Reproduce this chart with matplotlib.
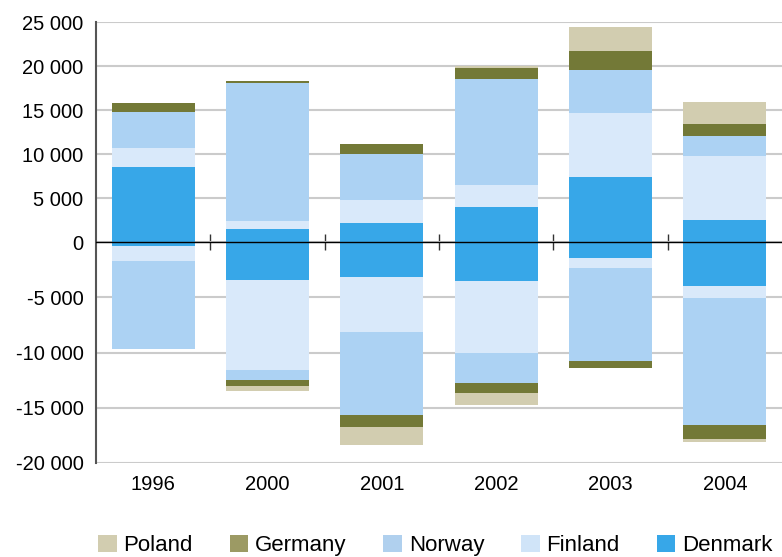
import numpy as np
import matplotlib
matplotlib.use("Agg")
import matplotlib.pyplot as plt
from matplotlib.ticker import FuncFormatter, FixedLocator
from matplotlib.patches import Patch

plt.rcParams['font.family'] = ['Liberation Sans', 'DejaVu Sans']

categories = ["1996", "2000", "2001", "2002", "2003", "2004"]
series = ["Denmark", "Finland", "Norway", "Germany", "Poland"]

denmark_pos = [8500, 1480, 2160, 3970, 7380, 2500]
finland_pos = [2170, 900, 2610, 2500, 7260, 7260]
norway_pos = [4090, 15670, 5220, 12030, 4880, 2270]
germany_pos = [1020, 220, 1130, 1250, 2160, 1360]
poland_pos = [0, 0, 0, 310, 2720, 2500]

denmark_neg = [-360, -3450, -3170, -3540, -1450, -3990]
finland_neg = [-1360, -8150, -4990, -6520, -910, -1090]
norway_neg = [-7950, -910, -7520, -2720, -8430, -11510]
germany_neg = [0, -540, -1090, -910, -600, -1270]
poland_neg = [0, -450, -1630, -1090, 0, -270]

colors = {"Denmark": "#37A7E8", "Finland": "#D9E9FA", "Norway": "#ACD2F3",
          "Germany": "#737937", "Poland": "#D2CDB0"}
legend_colors = {"Denmark": "#37A7E8", "Finland": "#D0E4F8", "Norway": "#B0D0EE",
                 "Germany": "#9C9A64", "Poland": "#D2CDB0"}

pos = {"Denmark": denmark_pos, "Finland": finland_pos, "Norway": norway_pos,
       "Germany": germany_pos, "Poland": poland_pos}
neg = {"Denmark": denmark_neg, "Finland": finland_neg, "Norway": norway_neg,
       "Germany": germany_neg, "Poland": poland_neg}

NEG_FACTOR = 1.25

def fwd(y):
    y = np.asarray(y, dtype=float)
    return np.where(y < 0, y * NEG_FACTOR, y)

def inv(y):
    y = np.asarray(y, dtype=float)
    return np.where(y < 0, y / NEG_FACTOR, y)

fig = plt.figure(figsize=(7.82, 5.57), dpi=100)
ax = fig.add_axes([96 / 782, (557 - 462.7) / 557, 1 - 96 / 782, (462.7 - 22) / 557])
ax.set_yscale('function', functions=(fwd, inv))

x = np.arange(len(categories))
width = 0.726
bot_p = np.zeros(len(categories))
bot_n = np.zeros(len(categories))
for s in series:
    p = np.array(pos[s], dtype=float)
    n = np.array(neg[s], dtype=float)
    ax.bar(x, p, width, bottom=bot_p, color=colors[s], linewidth=0, zorder=2)
    ax.bar(x, n, width, bottom=bot_n, color=colors[s], linewidth=0, zorder=2)
    bot_p += p
    bot_n += n

ax.set_xlim(-0.5, len(categories) - 0.5)
ax.set_ylim(-20000, 25000)
ax.yaxis.set_major_locator(FixedLocator(np.arange(-20000, 25001, 5000)))
ax.yaxis.set_major_formatter(FuncFormatter(lambda v, p: f"{int(round(v)):,}".replace(",", " ")))
ax.grid(axis='y', color='#CBCBCB', linewidth=1.5, zorder=0)
ax.set_axisbelow(True)
ax.tick_params(axis='y', length=0, pad=9, labelsize=14.5, colors='black')
ax.set_xticks(x)
ax.set_xticklabels(categories)
ax.tick_params(axis='x', length=0, pad=9, labelsize=14.5, colors='black')

for side in ['top', 'right', 'bottom']:
    ax.spines[side].set_visible(False)
ax.spines['left'].set_color('#555555')
ax.spines['left'].set_linewidth(1.5)

ax.axhline(0, color='black', linewidth=1, zorder=3)
sec = ax.secondary_xaxis(0.5)
sec.set_xticks(x[:-1] + 0.5)
sec.set_xticklabels([])
sec.tick_params(direction='inout', length=11, width=1, color='#333333')
for sp in sec.spines.values():
    sp.set_visible(False)

handles = [Patch(facecolor=legend_colors[s], edgecolor='none') for s in series[::-1]]
fig.legend(handles, series[::-1], ncol=5, loc='center left',
           bbox_to_anchor=(98 / 782, (557 - 545.5) / 557), frameon=False,
           fontsize=16, handlelength=0.85, handleheight=0.85, handletextpad=0.3,
           columnspacing=1.65, borderaxespad=0, borderpad=0)

fig.savefig("out.png", dpi=100)
